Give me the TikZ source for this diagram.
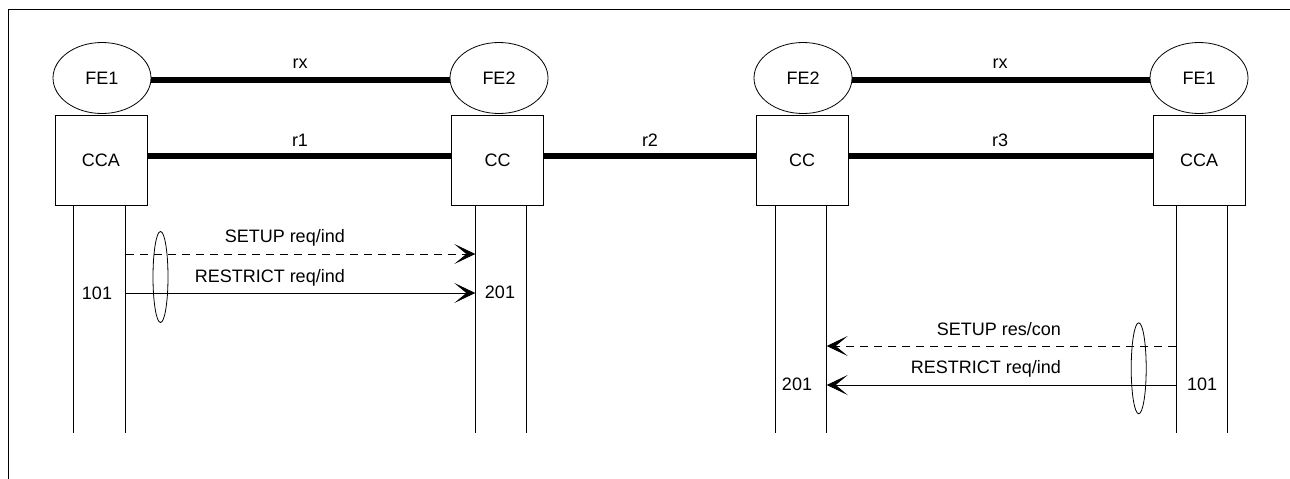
\documentclass[tikz,border=0pt]{standalone}
\usepackage{fontspec}
\setmainfont{Liberation Sans}
\usetikzlibrary{arrows.meta,shapes.geometric}
\begin{document}
\begin{tikzpicture}[x=1pt,y=-1pt,
  fe/.style={draw, ellipse, minimum width=98pt, minimum height=71pt, inner sep=0pt, line width=0.8pt},
  fbox/.style={draw, minimum width=92pt, minimum height=90pt, inner sep=0pt, line width=0.8pt},
  biglink/.style={line width=6pt},
  life/.style={line width=0.8pt},
  msg/.style={line width=0.8pt, -{Stealth[length=21pt,width=20pt,inset=12pt,line width=0.8pt]}},
  dmsg/.style={msg, dash pattern=on 8pt off 6pt},
  grp/.style={draw, ellipse, minimum width=15pt, minimum height=91pt, inner sep=0pt, line width=0.8pt},
  lbl/.style={inner sep=0pt},
  every node/.style={font=\fontsize{18}{21}\selectfont}
]
\useasboundingbox (0,0) rectangle (1290,479);
% frame
\draw[line width=0.9pt] (8,479) -- (8,9) -- (1290,9);

% entities
\node[fe] (fe1a) at (102,78) {FE1};
\node[fe] (fe2a) at (499,78) {FE2};
\node[fe] (fe2b) at (803,78) {FE2};
\node[fe] (fe1b) at (1199,78) {FE1};
\node[fbox] (cca1) at (101,160) {CCA};
\node[fbox] (cc1) at (497.5,160) {CC};
\node[fbox] (cc2) at (802,160) {CC};
\node[fbox] (cca2) at (1199,160) {CCA};

% thick relations
\draw[biglink] (fe1a.east |- 0,80) -- (fe2a.west |- 0,80);
\draw[biglink] (fe2b.east |- 0,80) -- (fe1b.west |- 0,80);
\draw[biglink] (cca1.east |- 0,156) -- (cc1.west |- 0,156);
\draw[biglink] (cc1.east |- 0,156) -- (cc2.west |- 0,156);
\draw[biglink] (cc2.east |- 0,156) -- (cca2.west |- 0,156);
\node[lbl] (rxa) at (300,64) {rx};
\node[lbl] (rxb) at (1000,64) {rx};
\node[lbl] (r1) at (300,140) {r1};
\node[lbl] (r2) at (650,140) {r2};
\node[lbl] (r3) at (1000,140) {r3};

% lifelines
\coordinate (a1t) at (73.3,205);  \coordinate (a1b) at (73.3,433);
\coordinate (a2t) at (125.7,205); \coordinate (a2b) at (125.7,433);
\coordinate (b1t) at (475.3,205); \coordinate (b1b) at (475.3,433);
\coordinate (b2t) at (526,205);   \coordinate (b2b) at (526,433);
\coordinate (c1t) at (775.7,205); \coordinate (c1b) at (775.7,433);
\coordinate (c2t) at (826.7,205); \coordinate (c2b) at (826.7,433);
\coordinate (d1t) at (1176.3,205); \coordinate (d1b) at (1176.3,433);
\coordinate (d2t) at (1227.3,205); \coordinate (d2b) at (1227.3,433);
\foreach \p in {a1,a2,b1,b2,c1,c2,d1,d2} \draw[life] (\p t) -- (\p b);

% messages left
\coordinate (m1s) at (125.7,254); \coordinate (m1e) at (475.3,254);
\coordinate (m2s) at (125.7,293); \coordinate (m2e) at (475.3,293);
\draw[dmsg] (m1s) -- (m1e);
\draw[msg] (m2s) -- (m2e);
\node[lbl, anchor=east] (t1) at (345,237.5) {SETUP req/ind};
\node[lbl, anchor=east] (t2) at (345,278) {RESTRICT req/ind};
\node[lbl] (n101a) at (97,293) {101};
\node[lbl] (n201a) at (500,292) {201};
\node[grp] (g1) at (160.5,277) {};

% messages right
\coordinate (m3s) at (1176.3,346); \coordinate (m3e) at (826.7,346);
\coordinate (m4s) at (1176.3,385); \coordinate (m4e) at (826.7,385);
\draw[dmsg] (m3s) -- (m3e);
\draw[msg] (m4s) -- (m4e);
\node[lbl, anchor=east] (t3) at (1061,329.5) {SETUP res/con};
\node[lbl, anchor=east] (t4) at (1061,369) {RESTRICT req/ind};
\node[lbl] (n201b) at (797,384) {201};
\node[lbl] (n101b) at (1202,384) {101};
\node[grp] (g2) at (1138.7,368.3) {};
\end{tikzpicture}
\end{document}
